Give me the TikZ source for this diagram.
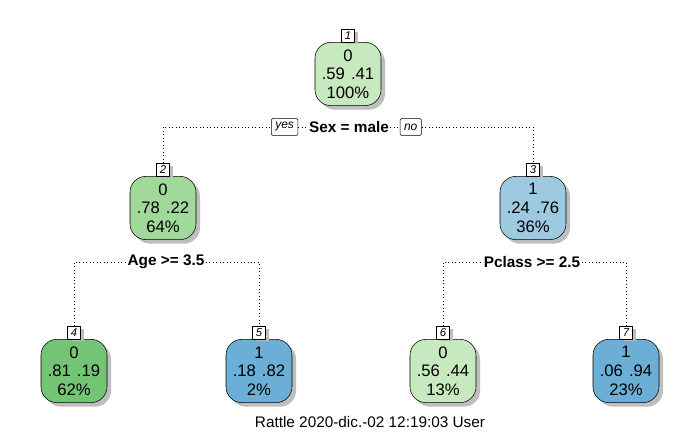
\documentclass[tikz,border=0pt]{standalone}
\usepackage{fontspec}
\setmainfont{Liberation Sans}
\usetikzlibrary{positioning,shadows}
\definecolor{greenA}{RGB}{199,233,192}
\definecolor{greenB}{RGB}{161,217,155}
\definecolor{greenC}{RGB}{116,196,118}
\definecolor{blueA}{RGB}{158,202,225}
\definecolor{blueB}{RGB}{107,174,214}
\definecolor{shade}{RGB}{190,190,190}
\begin{document}
\begin{tikzpicture}[x=0.75pt,y=-0.75pt,
  treenode/.style={draw,fill=#1,rounded corners=12pt,minimum width=49.5pt,minimum height=47.5pt,
    align=center,inner sep=0pt,font=\fontsize{12.5}{14}\selectfont,
    drop shadow={shadow xshift=3pt,shadow yshift=-3pt,fill=shade,opacity=1}},
  numtag/.style={draw,fill=white,minimum width=9.5pt,minimum height=9.5pt,inner sep=0pt,
    font=\fontsize{8.5}{9}\selectfont\itshape,
    drop shadow={shadow xshift=3pt,shadow yshift=-2pt,fill=shade,opacity=1}},
  split/.style={font=\fontsize{11.5}{13.5}\selectfont\bfseries,inner sep=1pt},
  ynbox/.style={draw,fill=white,rounded corners=1pt,inner xsep=3pt,inner ysep=0pt,minimum height=12.5pt,
    font=\fontsize{9}{10}\selectfont\itshape},
  link/.style={dotted,line width=0.6pt}]
\useasboundingbox (0,0) rectangle (700,432);
\fill[white] (0,0) rectangle (700,432);

\node[treenode=greenA] (n1) at (348,74) {0\\.59\hspace{4.5pt}.41\\100\%};
\node[numtag, above=0pt of n1] (t1) {1};
\node[treenode=greenB] (n2) at (163,208) {0\\.78\hspace{4.5pt}.22\\64\%};
\node[numtag, above=0pt of n2] (t2) {2};
\node[treenode=blueA] (n3) at (533,208) {1\\.24\hspace{4.5pt}.76\\36\%};
\node[numtag, above=0pt of n3] (t3) {3};
\node[treenode=greenC] (n4) at (74,371) {0\\.81\hspace{4.5pt}.19\\62\%};
\node[numtag, above=0pt of n4] (t4) {4};
\node[treenode=blueB] (n5) at (259,371) {1\\.18\hspace{4.5pt}.82\\2\%};
\node[numtag, above=0pt of n5] (t5) {5};
\node[treenode=greenA] (n6) at (443,371) {0\\.56\hspace{4.5pt}.44\\13\%};
\node[numtag, above=0pt of n6] (t6) {6};
\node[treenode=blueB] (n7) at (626,371) {1\\.06\hspace{4.5pt}.94\\23\%};
\node[numtag, above=0pt of n7] (t7) {7};

\node[split] (s1) at (349,127) {Sex = male};
\node[ynbox, left=7pt of s1] (yes) {yes};
\node[ynbox, right=7pt of s1] (no) {no};
\node[split] (s2) at (166,262) {Age >= 3.5};
\node[split] (s3) at (532,262) {Pclass >= 2.5};

\draw[link] (t2.north) |- (yes.west);
\draw[link] (yes.east) -- (s1.west);
\draw[link] (s1.east) -- (no.west);
\draw[link] (no.east) -| (t3.north);
\draw[link] (t4.north) |- (s2.west);
\draw[link] (s2.east) -| (t5.north);
\draw[link] (t6.north) |- (s3.west);
\draw[link] (s3.east) -| (t7.north);

\node[font=\fontsize{11.5}{13}\selectfont] (foot) at (370,422) {Rattle 2020-dic.-02 12:19:03 User};
\end{tikzpicture}
\end{document}
